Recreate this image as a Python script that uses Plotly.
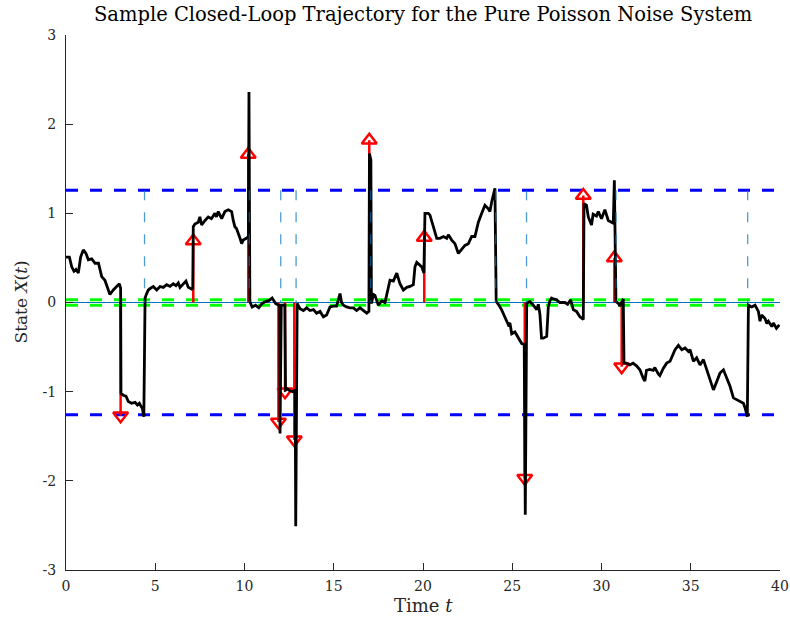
import plotly.graph_objects as go

# ---------------- data ----------------
traj_t = [0.0, 0.19, 0.32, 0.45, 0.56, 0.69, 0.82, 0.97, 1.12, 1.25, 1.44, 1.63, 1.82, 2.0, 2.18, 2.37, 2.46, 2.65, 2.84, 2.99, 3.06,
          3.08, 3.21, 3.36, 3.49, 3.68, 3.87, 4.0, 4.11, 4.2, 4.28, 4.36, 4.43,
          4.52, 4.61, 4.74, 4.89, 5.08, 5.27, 5.45, 5.64, 5.83, 6.01, 6.16, 6.29, 6.39, 6.57, 6.72, 6.85, 7.04, 7.10,
          7.13, 7.22, 7.41, 7.5, 7.6, 7.79, 7.97, 8.15, 8.34, 8.43, 8.53, 8.72, 8.9, 9.09, 9.28, 9.37, 9.46, 9.55, 9.65, 9.75, 9.84, 9.93, 10.1, 10.22,
          10.25, 10.3, 10.43, 10.62, 10.8, 10.99, 11.18, 11.36, 11.55, 11.74, 11.9, 11.97,
          11.99, 12.06, 12.17, 12.26, 12.3, 12.4, 12.55, 12.7, 12.84, 12.87, 12.95,
          13.11, 13.3, 13.48, 13.67, 13.86, 14.04, 14.23, 14.42, 14.6, 14.79, 14.98, 15.16, 15.35, 15.44, 15.54, 15.72, 15.91, 16.1, 16.28, 16.47, 16.66, 16.85, 16.97,
          17.0, 17.08, 17.11, 17.22, 17.31, 17.5, 17.69, 17.87, 18.06, 18.15, 18.34, 18.53, 18.71, 18.9, 19.09, 19.27, 19.46, 19.55, 19.65, 19.83, 19.93, 20.05,
          20.11, 20.3, 20.39, 20.58, 20.77, 20.95, 21.14, 21.33, 21.42, 21.61, 21.79, 21.98, 22.17, 22.35, 22.54, 22.73, 22.91, 23.1, 23.29, 23.47, 23.66, 23.75, 23.85, 23.94, 24.03,
          24.1, 24.22, 24.4, 24.59, 24.78, 24.87, 24.97, 25.15, 25.34, 25.53, 25.67,
          25.73, 25.81, 25.99, 26.18, 26.37, 26.46, 26.55, 26.64, 26.74, 26.93, 27.02, 27.11, 27.2, 27.3, 27.48, 27.67, 27.95, 28.1, 28.27, 28.42, 28.6, 28.79, 28.98,
          29.02, 29.16, 29.26, 29.44, 29.53, 29.72, 29.82, 30.0, 30.19, 30.38, 30.66,
          30.72, 30.81, 30.94, 31.03, 31.22, 31.26, 31.4, 31.59, 31.77, 31.96, 32.15, 32.34, 32.43, 32.52, 32.71, 32.9, 32.99, 33.18, 33.27, 33.46, 33.65, 33.84,
          34.02, 34.12, 34.31, 34.5, 34.68, 34.87, 34.96, 35.15, 35.33, 35.52, 35.71, 35.89, 36.08, 36.27, 36.45, 36.64, 36.83, 37.02, 37.2, 37.39, 37.58, 37.77, 37.95, 38.04, 38.17,
          38.23, 38.41, 38.6, 38.79, 38.88, 38.97, 39.16, 39.26, 39.35, 39.54, 39.63, 39.8, 39.96]
traj_x = [0.51, 0.51, 0.40, 0.35, 0.37, 0.33, 0.51, 0.59, 0.55, 0.48, 0.49, 0.44, 0.44, 0.29, 0.25, 0.14, 0.09, 0.14, 0.18, 0.21, 0.16,
          -1.02, -1.04, -1.05, -1.11, -1.13, -1.12, -1.15, -1.13, -1.16, -1.19, -1.28, 0.05,
          0.10, 0.14, 0.16, 0.18, 0.14, 0.18, 0.17, 0.20, 0.18, 0.21, 0.19, 0.22, 0.17, 0.21, 0.24, 0.17, 0.15, 0.16,
          0.85, 0.88, 0.90, 0.96, 0.87, 0.92, 0.96, 0.94, 1.0, 0.96, 1.02, 0.94, 1.02, 1.04, 1.02, 0.92, 0.85, 0.83, 0.78, 0.72, 0.66, 0.70, 0.72, 0.74,
          2.36, 0.01, -0.05, -0.03, -0.06, -0.01, 0.01, 0.02, 0.05, -0.01, -0.03, -0.03,
          -1.47, -0.03, -0.03, -0.03, -0.98, -0.97, -0.99, -1.0, -0.98, -2.51, -0.01,
          -0.07, -0.09, -0.06, -0.09, -0.08, -0.12, -0.10, -0.16, -0.14, -0.05, -0.04, -0.04, 0.10, 0.0, -0.03, -0.05, -0.06, -0.06, -0.09, -0.06, -0.09, -0.12, -0.10,
          1.67, 1.60, -0.01, 0.09, 0.08, -0.03, 0.02, 0.0, 0.18, 0.25, 0.24, 0.33, 0.21, 0.14, 0.17, 0.18, 0.20, 0.40, 0.45, 0.42, 0.40, 0.33,
          1.0, 1.0, 0.98, 0.85, 0.72, 0.72, 0.74, 0.72, 0.76, 0.70, 0.66, 0.55, 0.60, 0.64, 0.66, 0.74, 0.74, 0.90, 1.0, 1.09, 1.05, 1.02, 1.13, 1.20, 1.28,
          0.01, -0.02, -0.08, -0.16, -0.25, -0.23, -0.35, -0.33, -0.40, -0.46, -0.47,
          -2.38, -0.01, 0.01, -0.03, -0.08, -0.02, -0.13, -0.40, -0.40, -0.38, -0.05, 0.02, 0.05, 0.04, 0.03, 0.0, 0.0, -0.02, 0.03, -0.08, -0.10, -0.16, -0.19,
          1.11, 1.09, 0.96, 0.87, 0.99, 0.97, 1.02, 0.94, 1.04, 0.92, 0.89,
          1.37, 0.01, -0.01, -0.04, 0.04, -0.68, -0.68, -0.70, -0.68, -0.71, -0.755, -0.85, -0.88, -0.76, -0.75, -0.76, -0.73, -0.80, -0.82, -0.74, -0.68, -0.66,
          -0.58, -0.53, -0.48, -0.53, -0.51, -0.55, -0.53, -0.66, -0.62, -0.70, -0.64, -0.755, -0.85, -0.98, -0.89, -0.79, -0.755, -0.86, -0.94, -1.07, -1.09, -1.11, -1.13, -1.18, -1.28,
          -0.03, -0.05, -0.03, -0.10, -0.21, -0.14, -0.18, -0.235, -0.21, -0.27, -0.23, -0.29, -0.25]

jump_t = [3.06, 7.13, 10.21, 11.90, 12.27, 12.79, 16.99, 20.07, 25.70, 28.98, 30.72, 31.13]
jump_size = [-1.27, 0.69, 1.66, -1.34, -1.00, -1.54, 1.82, 0.73, -1.97, 1.20, 0.50, -0.72]

reset_t = [4.40, 10.27, 12.03, 12.89, 17.07, 24.07, 25.80, 30.81, 38.19]

upper_bound = 1.26
lower_bound = -1.26
dead_band = 0.03

x_ticks = [0, 5, 10, 15, 20, 25, 30, 35, 40]
y_ticks = [-3, -2, -1, 0, 1, 2, 3]
y_tick_text = ["-3", "-2", "-1", "0", "1", "2", "3"]

# ---------------- figure ----------------
FONT = "DejaVu Serif"
fig = go.Figure()
T0, T1 = 0, 40

for lvl in (dead_band, -dead_band):
    fig.add_trace(go.Scatter(x=[T0, T1], y=[lvl, lvl], mode="lines",
                             line=dict(color="#00FF00", width=3, dash="12px,12px"),
                             hoverinfo="skip", showlegend=False))
for lvl in (upper_bound, lower_bound):
    fig.add_trace(go.Scatter(x=[T0, T1], y=[lvl, lvl], mode="lines",
                             line=dict(color="#0000FF", width=3, dash="12px,12px"),
                             hoverinfo="skip", showlegend=False))
fig.add_trace(go.Scatter(x=[T0, T1], y=[0, 0], mode="lines",
                         line=dict(color="#0072BD", width=1),
                         hoverinfo="skip", showlegend=False))

stem_x, stem_y = [], []
for tj, sj in zip(jump_t, jump_size):
    stem_x += [tj, tj, None]
    stem_y += [0, sj, None]
fig.add_trace(go.Scatter(x=stem_x, y=stem_y, mode="lines",
                         line=dict(color="#FF0000", width=2.5),
                         hoverinfo="skip", showlegend=False))
fig.add_trace(go.Scatter(x=jump_t, y=jump_size, mode="markers",
                         marker=dict(symbol=["triangle-up-open" if s > 0 else "triangle-down-open" for s in jump_size],
                                     size=13, color="#FF0000", line=dict(color="#FF0000", width=2.5)),
                         hoverinfo="skip", showlegend=False))

fig.add_trace(go.Scatter(x=traj_t, y=traj_x, mode="lines",
                         line=dict(color="#000000", width=2.8),
                         showlegend=False))

vx, vy = [], []
for tr in reset_t:
    vx += [tr, tr, None]
    vy += [upper_bound, 0, None]
fig.add_trace(go.Scatter(x=vx, y=vy, mode="lines",
                         line=dict(color="rgba(0,114,189,0.7)", width=1.3, dash="10px,12px"),
                         hoverinfo="skip", showlegend=False))

axis_common = dict(showgrid=False, zeroline=False, showline=True, linecolor="#262626", linewidth=1,
                   ticks="inside", ticklen=7, tickwidth=1, tickcolor="#262626", automargin=False,
                   tickfont=dict(family=FONT, size=14, color="#262626"), mirror=False)

fig.update_layout(
    width=790, height=631,
    margin=dict(l=66, r=10, t=35, b=61),
    paper_bgcolor="white", plot_bgcolor="white",
    hovermode=False,
    xaxis=dict(range=[T0, T1], tickvals=x_ticks, ticktext=[str(v) for v in x_ticks],
               ticklabelstandoff=3, **axis_common),
    yaxis=dict(range=[-3, 3], tickvals=y_ticks, ticktext=y_tick_text,
               ticklabelstandoff=6, **axis_common),
    annotations=[
        dict(text="Sample Closed-Loop Trajectory for the Pure Poisson Noise System",
             xref="paper", yref="paper", x=0.5, y=1, yshift=21, showarrow=False,
             xanchor="center", yanchor="middle",
             font=dict(family=FONT, size=19.5, color="#000000")),
        dict(text="Time <i>t</i>", xref="paper", yref="paper", x=0.5, y=0, yshift=-35,
             showarrow=False, xanchor="center", yanchor="middle",
             font=dict(family=FONT, size=18, color="#262626")),
        dict(text="State <i>X</i>(<i>t</i>)", xref="paper", yref="paper", x=0, y=0.5, xshift=-46,
             showarrow=False, xanchor="center", yanchor="middle", textangle=-90,
             font=dict(family=FONT, size=17, color="#262626")),
    ],
)

fig.write_html("out.html", config={"displayModeBar": False, "staticPlot": True},
               post_script="document.body.style.margin='0';")
